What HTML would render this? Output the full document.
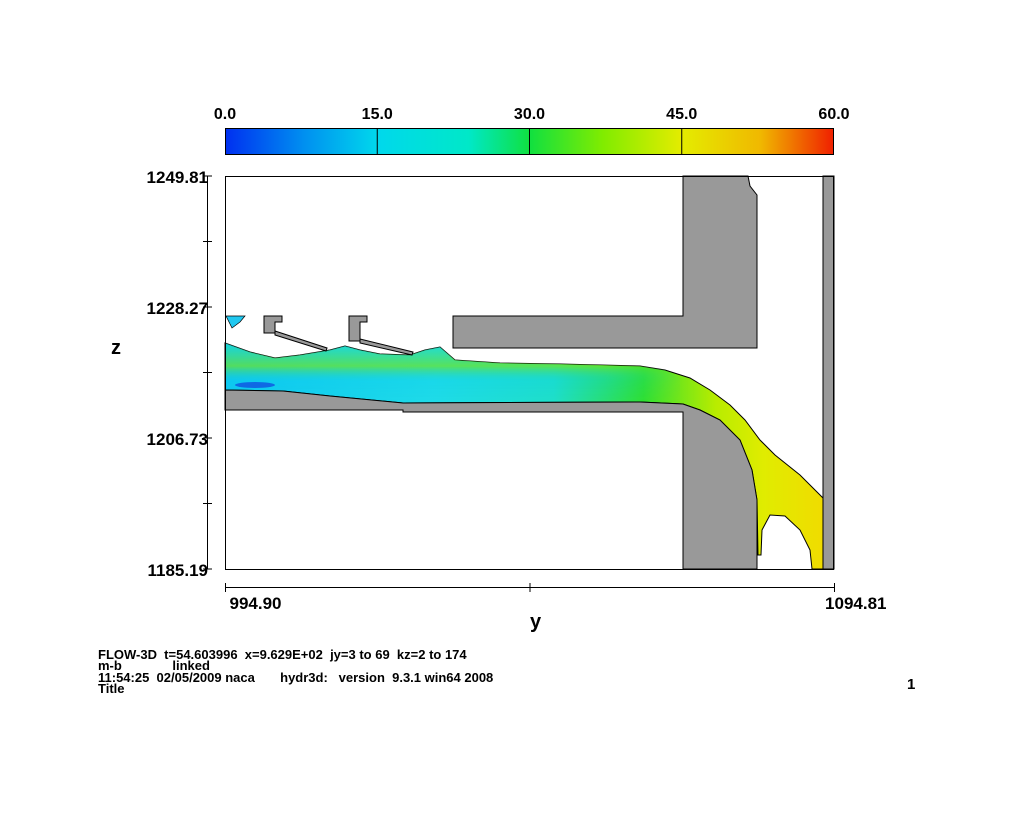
<!DOCTYPE html>
<html><head><meta charset="utf-8"><style>
html,body{margin:0;padding:0;background:#fff;width:1019px;height:834px;overflow:hidden}
svg text{font-family:"Liberation Sans",Arial,sans-serif;font-weight:bold;fill:#000;white-space:pre}
</style></head><body>
<svg id="chart" width="1019" height="834" viewBox="0 0 1019 834" xmlns="http://www.w3.org/2000/svg" xml:space="preserve">
<defs>
<linearGradient id="cbar" x1="0" x2="1" y1="0" y2="0">
<stop offset="0" stop-color="#0030f0"/><stop offset="0.13" stop-color="#0090f0"/>
<stop offset="0.25" stop-color="#00d8ec"/><stop offset="0.4" stop-color="#00e8c8"/>
<stop offset="0.5" stop-color="#10e040"/><stop offset="0.62" stop-color="#80ec00"/>
<stop offset="0.75" stop-color="#e4ec00"/><stop offset="0.88" stop-color="#f0b800"/>
<stop offset="1" stop-color="#f02000"/>
</linearGradient>
<linearGradient id="fluidH" gradientUnits="userSpaceOnUse" x1="225" x2="823" y1="0" y2="0">
<stop offset="0" stop-color="#10c8f0"/><stop offset="0.35" stop-color="#20dce8"/>
<stop offset="0.55" stop-color="#20e0c8"/><stop offset="0.7" stop-color="#30e030"/>
<stop offset="0.82" stop-color="#b8ec00"/><stop offset="0.9" stop-color="#e0ec00"/>
<stop offset="1" stop-color="#f0dc00"/>
</linearGradient>
<linearGradient id="band" gradientUnits="userSpaceOnUse" x1="0" x2="0" y1="345" y2="405">
<stop offset="0" stop-color="#20dcc8" stop-opacity="0.6"/><stop offset="0.35" stop-color="#70e420" stop-opacity="0.7"/>
<stop offset="0.6" stop-color="#00c8f0" stop-opacity="0.2"/><stop offset="1" stop-color="#00c8f0" stop-opacity="0"/>
</linearGradient>
<linearGradient id="bandfade" gradientUnits="userSpaceOnUse" x1="225" x2="700" y1="0" y2="0">
<stop offset="0" stop-color="#fff" stop-opacity="1"/><stop offset="0.8" stop-color="#fff" stop-opacity="1"/><stop offset="1" stop-color="#fff" stop-opacity="0"/>
</linearGradient>
<mask id="bm"><rect x="225" y="300" width="500" height="120" fill="url(#bandfade)"/></mask>
</defs>
<g id="colorbar"></g>
<g id="plot">
<path fill="url(#fluidH)" stroke="#000" stroke-width="1" d="M225,343 L250,352 L275,358 L300,355 L330,350 L345,346 L360,350 L380,354 L410,355 L425,350 L440,347 L455,360 L500,363 L560,364 L640,366 L665,370 L690,378 L710,390 L730,405 L745,420 L760,440 L775,455 L800,475 L815,490 L823,498 L823,569 L812,569 L810,550 L800,530 L785,516 L770,515 L762,530 L761,555 L758,555 L757,500 L752,470 L740,440 L720,420 L700,410 L683,404 L640,402 L403,403 L330,396 L283,391 L225,390 Z"/>
<path mask="url(#bm)" fill="url(#band)" d="M225,343 L250,352 L275,358 L300,355 L330,350 L345,346 L360,350 L380,354 L410,355 L425,350 L440,347 L455,360 L500,363 L560,364 L640,366 L665,370 L680,378 L680,404 L225,404 Z"/>
<ellipse cx="255" cy="385" rx="20" ry="3" fill="#1040e0" opacity="0.7"/>
<path fill="#20c8f0" stroke="#000" stroke-width="0.7" d="M226,316 L245,316 L240,322 L232,328 Z"/>
<g fill="#999" stroke="#000" stroke-width="1">
<path d="M683,176 L748,176 L750,186 L757,195 L757,348 L453,348 L453,316 L683,316 Z"/>
<path d="M225,390 L283,391 L330,396 L403,403 L640,402 L683,404 L700,410 L720,420 L740,440 L752,470 L757,500 L757,569 L683,569 L683,412 L403,412 L403,410 L225,410 Z"/>
<rect x="823" y="176" width="11" height="393"/>
<path d="M264,316 L282,316 L282,322 L275,322 L275,333 L264,333 Z"/>
<path d="M349,316 L367,316 L367,322 L360,322 L360,341 L349,341 Z"/>
<path d="M275,331 L327,348 L326,351 L275,335 Z"/>
<path d="M360,339 L413,352 L412,355 L360,343 Z"/>
</g>
<rect x="225.5" y="176.5" width="608" height="393" fill="none" stroke="#000" stroke-width="1"/>
</g>
<g id="axes"></g>
<text x="111" y="354" font-size="20">z</text>
<text x="530" y="628" font-size="20">y</text>
<g>
<text x="98" y="659" style="font-size:13px">FLOW-3D  t=54.603996  x=9.629E+02  jy=3 to 69  kz=2 to 174</text>
<text x="98" y="670" style="font-size:13px">m-b              linked</text>
<text x="98" y="682" style="font-size:13px">11:54:25  02/05/2009 naca       hydr3d:   version  9.3.1 win64 2008</text>
<text x="98" y="693" style="font-size:13px">Title</text>
</g>
<text x="907" y="689" style="font-size:15px">1</text>
</svg>
<script>
const cbarTicks=["0.0","15.0","30.0","45.0","60.0"];
const cbarMin=0, cbarMax=60;
const zTicks=[1249.81,1228.27,1206.73,1185.19];
const zMinorTicks=[1239.04,1217.50,1195.96];
const yTicks=[994.90,1044.855,1094.81];
const yTickLabels=["994.90","","1094.81"];
const NS="http://www.w3.org/2000/svg";
const X0=225,X1=834,Y0=176,Y1=569;
const yMin=994.90,yMax=1094.81,zMin=1185.19,zMax=1249.81;
function sx(v){return X0+(v-yMin)/(yMax-yMin)*(X1-X0);}
function sz(v){return Y1-(v-zMin)/(zMax-zMin)*(Y1-Y0);}
function cx(v){return X0+(v-cbarMin)/(cbarMax-cbarMin)*(X1-X0);}
function mk(tag,attrs,parent){const e=document.createElementNS(NS,tag);for(const k in attrs)e.setAttribute(k,attrs[k]);parent.appendChild(e);return e;}
const cb=document.getElementById('colorbar');
const bar=mk('rect',{x:X0+0.5,y:128.5,width:608,height:26,fill:'url(#cbar)',stroke:'#000'},cb);


cbarTicks.forEach((t,i)=>{
  const x=cx(parseFloat(t));
  if(i>0&&i<cbarTicks.length-1){
    const l=mk('line',{x1:x,x2:x,y1:128,y2:154,stroke:'#000'},cb);
    
    
  }
  const tx=mk('text',{x:x,y:119,'text-anchor':'middle','font-size':'16'},cb);
  tx.textContent=t;
  
  
});
const ax=document.getElementById('axes');
const za=mk('line',{x1:207.5,x2:207.5,y1:Y0,y2:Y1,stroke:'#000'},ax);


zTicks.forEach(v=>{
  const y=sz(v);
  const l=mk('line',{x1:203,x2:212,y1:y,y2:y,stroke:'#000'},ax);
  
  
  const t=mk('text',{x:208,y:y+7,'text-anchor':'end','font-size':'17'},ax);
  t.textContent=v.toFixed(2);
  
  
});
zMinorTicks.forEach(v=>{
  const y=sz(v);
  const l=mk('line',{x1:203,x2:212,y1:y,y2:y,stroke:'#000'},ax);
  
  
});
const ya=mk('line',{x1:X0,x2:X1,y1:587.5,y2:587.5,stroke:'#000'},ax);


yTicks.forEach((v,i)=>{
  const x=sx(v)+0.5;
  const l=mk('line',{x1:x,x2:x,y1:583,y2:592,stroke:'#000'},ax);
  
  
  if(yTickLabels[i]){
    const t=mk('text',{x:i===0?x+4:x+52,y:609,'text-anchor':i===0?'start':'end','font-size':'17'},ax);
    t.textContent=yTickLabels[i];
    
    
  }
});
</script>
</body></html>
